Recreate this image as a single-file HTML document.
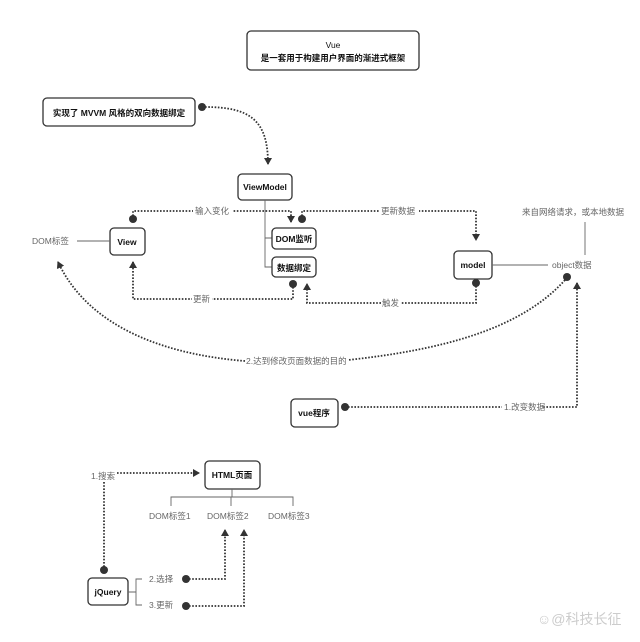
<!DOCTYPE html>
<html><head><meta charset="utf-8"><style>
html,body{margin:0;padding:0;background:#fff;}
svg{display:block;font-family:"Liberation Sans","Noto Sans CJK SC",sans-serif;}
.b{fill:#fff;stroke:#333;stroke-width:1.3;}
.t{font-size:8.5px;font-weight:bold;fill:#111;text-anchor:middle;}
.g{font-size:8.5px;fill:#666;}
.d{fill:none;stroke:#333;stroke-width:1.8;stroke-dasharray:1.6 1.6;}
.l{fill:none;stroke:#666;stroke-width:0.9;}
</style></head><body>
<svg width="640" height="642" viewBox="0 0 640 642">
<defs><marker id="a" markerWidth="8" markerHeight="8" refX="6" refY="4" orient="auto" markerUnits="userSpaceOnUse"><path d="M0,0 L7,4 L0,8z" fill="#333"/></marker></defs>

<rect class="b" x="247" y="31" width="172" height="39" rx="4"/>
<text class="t" x="333" y="48" style="font-weight:normal">Vue</text>
<text class="t" x="333" y="61">是一套用于构建用户界面的渐进式框架</text>

<rect class="b" x="43" y="98" width="152" height="28" rx="4"/>
<text class="t" x="119" y="116">实现了 MVVM 风格的双向数据绑定</text>
<circle cx="202" cy="107" r="4" fill="#333"/>
<path class="d" d="M205,107 C250,107 268,120 268,164" marker-end="url(#a)"/>

<rect class="b" x="238" y="174" width="54" height="26" rx="4"/>
<text class="t" x="265" y="190">ViewModel</text>
<path class="l" d="M265,200 V267 H272 M265,238 H272"/>
<rect class="b" x="272" y="228" width="44" height="21" rx="4"/>
<text class="t" x="294" y="242">DOM监听</text>
<rect class="b" x="272" y="257" width="44" height="20" rx="4"/>
<text class="t" x="294" y="271">数据绑定</text>

<rect class="b" x="110" y="228" width="35" height="27" rx="4"/>
<text class="t" x="127" y="245">View</text>
<text class="g" x="32" y="244">DOM标签</text>
<path class="l" d="M77,241 H110"/>

<circle cx="133" cy="219" r="4" fill="#333"/>
<path class="d" d="M133,216 V211 H291 V222" marker-end="url(#a)"/>
<rect x="193" y="205" width="40" height="11" fill="#fff"/>
<text class="g" x="195" y="214">输入变化</text>

<circle cx="302" cy="219" r="4" fill="#333"/>
<path class="d" d="M302,216 V211 H476 V240" marker-end="url(#a)"/>
<rect x="379" y="205" width="40" height="11" fill="#fff"/>
<text class="g" x="381" y="214">更新数据</text>

<rect class="b" x="454" y="251" width="38" height="28" rx="4"/>
<text class="t" x="473" y="268">model</text>
<path class="l" d="M492,265 H548 M585,222 V255"/>
<text class="g" x="552" y="268">object数据</text>
<text class="g" x="522" y="215">来自网络请求，或本地数据</text>

<circle cx="293" cy="284" r="4" fill="#333"/>
<path class="d" d="M293,287 V299 H133 V262" marker-end="url(#a)"/>
<rect x="192" y="294" width="20" height="11" fill="#fff"/>
<text class="g" x="193" y="302">更新</text>

<circle cx="476" cy="283" r="4" fill="#333"/>
<path class="d" d="M476,286 V303 H307 V284" marker-end="url(#a)"/>
<rect x="381" y="298" width="20" height="11" fill="#fff"/>
<text class="g" x="382" y="306">触发</text>

<circle cx="567" cy="277" r="4" fill="#333"/>
<path class="d" d="M565,280 C520,330 440,350 348,360 M245,361 C170,355 90,330 58,262" marker-end="url(#a)"/>
<text class="g" x="246" y="364">2.达到修改页面数据的目的</text>

<path class="d" d="M348,407 H577 V283" marker-end="url(#a)"/>
<circle cx="345" cy="407" r="4" fill="#333"/>
<rect x="502" y="401" width="40" height="11" fill="#fff"/>
<text class="g" x="504" y="410">1.改变数据</text>
<rect class="b" x="291" y="399" width="47" height="28" rx="4"/>
<text class="t" x="314" y="416">vue程序</text>

<rect class="b" x="205" y="461" width="55" height="28" rx="4"/>
<text class="t" x="232" y="478">HTML页面</text>
<path class="l" d="M232,489 V497 M171,506 V497 H293 V506 M231,497 V506"/>
<text class="g" x="149" y="519">DOM标签1</text>
<text class="g" x="207" y="519">DOM标签2</text>
<text class="g" x="268" y="519">DOM标签3</text>

<text class="g" x="91" y="479">1.搜索</text>
<path class="d" d="M117,473 H199" marker-end="url(#a)"/>
<path class="d" d="M104,482 V567"/>
<circle cx="104" cy="570" r="4" fill="#333"/>
<rect class="b" x="88" y="578" width="40" height="27" rx="4"/>
<text class="t" x="108" y="595">jQuery</text>
<path class="l" d="M128,592 H136 M142,579 H136 V605 H142"/>
<text class="g" x="149" y="582">2.选择</text>
<text class="g" x="149" y="608">3.更新</text>
<circle cx="186" cy="579" r="4" fill="#333"/>
<path class="d" d="M189,579 H225 V530" marker-end="url(#a)"/>
<circle cx="186" cy="606" r="4" fill="#333"/>
<path class="d" d="M189,606 H244 V530" marker-end="url(#a)"/>

<text x="537" y="624" style="font-size:14px;fill:#ccc">☺@科技长征</text>
</svg>
</body></html>
